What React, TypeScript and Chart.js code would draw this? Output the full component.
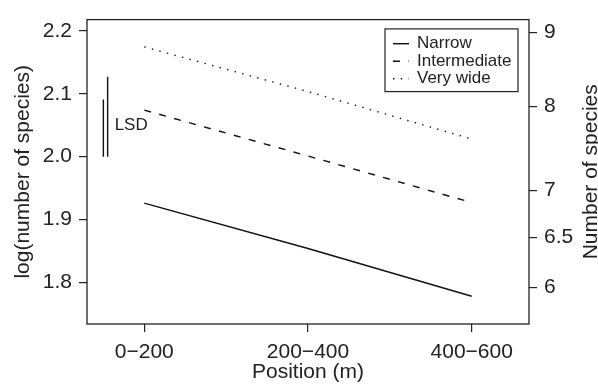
import { useEffect, useRef } from 'react';
import { Chart, registerables } from 'chart.js';

Chart.register(...registerables);

// ---- data ----
const categories = ['0−200', '200−400', '400−600'];
const categoryPositions = [1, 2, 3];
const seriesLabels = ['Narrow', 'Intermediate', 'Very wide'];
const narrow = [1.926, 1.854, 1.778];
const intermediate = [2.074, 2.001, 1.927];
const veryWide = [2.1745, 2.1035, 2.028];
const leftTicks = [1.8, 1.9, 2.0, 2.1, 2.2];
const rightTickCounts = [6, 6.5, 7, 8, 9];
const rightTickLabels = ['6', '6.5', '7', '8', '9'];
const lsdPositions = [0.75, 0.776];
const lsdBase = [2.0, 2.0];
const lsdTops = [2.091, 2.127];
const lsdLabel = 'LSD';
const xRange = [0.65, 3.35];
const yRange = [1.7339, 2.2179];
const xTitle = 'Position (m)';
const yTitle = 'log(number of species)';
const y2Title = 'Number of species';

const FONT = '"Liberation Sans", Arial, Helvetica, sans-serif';
const INK = '#222';

const dashes: Record<string, number[]> = {
  Narrow: [],
  Intermediate: [7, 8.5],
  'Very wide': [1.4, 6.4],
};

const decorPlugin = {
  id: 'decor',
  afterDatasetsDraw(chart: any) {
    const { ctx, chartArea, scales } = chart;
    const { left, right, top, bottom } = chartArea;
    ctx.save();
    // box
    ctx.strokeStyle = INK;
    ctx.lineWidth = 1.3;
    ctx.setLineDash([]);
    ctx.strokeRect(left, top, right - left, bottom - top);

    // LSD label
    ctx.fillStyle = INK;
    ctx.font = `17px ${FONT}`;
    ctx.textAlign = 'left';
    ctx.textBaseline = 'middle';
    const lx = scales.x.getPixelForValue(lsdPositions[1]) + 7;
    const ly = scales.y.getPixelForValue((lsdBase[0] + lsdTops[0]) / 2 + 0.004);
    ctx.fillText(lsdLabel, lx, ly);

    // legend
    const boxL = right - 144;
    const boxR = right - 11;
    const boxT = top + 9.3;
    const boxB = top + 72;
    ctx.lineWidth = 1.2;
    ctx.strokeRect(boxL, boxT, boxR - boxL, boxB - boxT);
    const rowY = [boxT + 14.8, boxT + 32.3, boxT + 49.8];
    chart.data.datasets
      .filter((d: any) => seriesLabels.includes(d.label))
      .forEach((d: any, i: number) => {
        ctx.beginPath();
        ctx.setLineDash(d.borderDash || []);
        ctx.lineWidth = d.borderWidth;
        ctx.strokeStyle = d.borderColor;
        ctx.moveTo(boxL + 8, rowY[i]);
        ctx.lineTo(boxL + 24, rowY[i]);
        ctx.stroke();
        ctx.setLineDash([]);
        ctx.fillStyle = INK;
        ctx.font = `17px ${FONT}`;
        ctx.textAlign = 'left';
        ctx.textBaseline = 'middle';
        ctx.fillText(d.label, boxL + 32, rowY[i]);
      });

    // axis titles
    ctx.font = `21px ${FONT}`;
    ctx.fillStyle = INK;
    ctx.textAlign = 'center';
    ctx.textBaseline = 'alphabetic';
    const cy = (top + bottom) / 2;
    const cx = (left + right) / 2;
    ctx.fillText(xTitle, cx, bottom + 53.7);

    ctx.save();
    ctx.translate(left - 58.4, cy);
    ctx.rotate(-Math.PI / 2);
    ctx.fillText(yTitle, 0, 0);
    ctx.restore();

    ctx.save();
    ctx.translate(right + 68.3, cy);
    ctx.rotate(-Math.PI / 2);
    ctx.fillText(y2Title, 0, 0);
    ctx.restore();

    ctx.restore();
  },
};

export default function App() {
  const ref = useRef<HTMLCanvasElement | null>(null);

  useEffect(() => {
    if (!ref.current) return;
    const line = (label: string, values: number[]) => ({
      label,
      data: values.map((v, i) => ({ x: categoryPositions[i], y: v })),
      borderColor: '#111',
      borderWidth: 1.4,
      borderDash: dashes[label],
      pointRadius: 0,
      fill: false,
      tension: 0,
      yAxisID: 'y',
    });
    const lsd = (i: number) => ({
      label: `_lsd${i}`,
      data: [
        { x: lsdPositions[i], y: lsdBase[i] },
        { x: lsdPositions[i], y: lsdTops[i] },
      ],
      borderColor: '#111',
      borderWidth: 1.4,
      pointRadius: 0,
      fill: false,
      yAxisID: 'y',
    });

    const tickCommon = {
      color: INK,
      font: { family: FONT, size: 21 },
    };
    const gridCommon = {
      display: true,
      drawOnChartArea: false,
      drawTicks: true,
      tickLength: 8,
      color: INK,
      lineWidth: 1.2,
    };

    const chart = new Chart(ref.current, {
      type: 'line',
      data: {
        datasets: [
          line(seriesLabels[0], narrow),
          line(seriesLabels[1], intermediate),
          line(seriesLabels[2], veryWide),
          lsd(0),
          lsd(1),
        ] as any,
      },
      options: {
        animation: false,
        responsive: false,
        devicePixelRatio: 1,
        layout: { padding: { top: 13, left: 0, right: 0, bottom: 0 } },
        plugins: { legend: { display: false }, tooltip: { enabled: false } },
        scales: {
          x: {
            type: 'linear',
            min: xRange[0],
            max: xRange[1],
            border: { display: false },
            grid: gridCommon,
            afterBuildTicks: (s: any) => {
              s.ticks = categoryPositions.map((v) => ({ value: v }));
            },
            afterFit: (s: any) => {
              s.height = 61;
            },
            ticks: {
              ...tickCommon,
              padding: 8,
              autoSkip: false,
              maxRotation: 0,
              callback: (v: any) => categories[categoryPositions.indexOf(Number(v))] ?? '',
            },
          },
          y: {
            type: 'linear',
            position: 'left',
            min: yRange[0],
            max: yRange[1],
            border: { display: false },
            grid: gridCommon,
            afterBuildTicks: (s: any) => {
              s.ticks = leftTicks.map((v) => ({ value: v }));
            },
            afterFit: (s: any) => {
              s.width = 87;
            },
            ticks: {
              ...tickCommon,
              padding: 7,
              callback: (v: any) => Number(v).toFixed(1),
            },
          },
          y2: {
            type: 'linear',
            position: 'right',
            min: yRange[0],
            max: yRange[1],
            border: { display: false },
            grid: gridCommon,
            afterBuildTicks: (s: any) => {
              s.ticks = rightTickCounts.map((v) => ({ value: Math.log(v) }));
            },
            afterFit: (s: any) => {
              s.width = 69;
            },
            ticks: {
              ...tickCommon,
              padding: 7,
              callback: (_v: any, i: number) => rightTickLabels[i],
            },
          },
        },
      } as any,
      plugins: [decorPlugin],
    });
    return () => chart.destroy();
  }, []);

  return (
    <div style={{ position: 'fixed', left: 0, top: 0, width: 598, height: 385, background: '#fff' }}>
      <canvas ref={ref} width={598} height={385} style={{ display: 'block' }} />
    </div>
  );
}
